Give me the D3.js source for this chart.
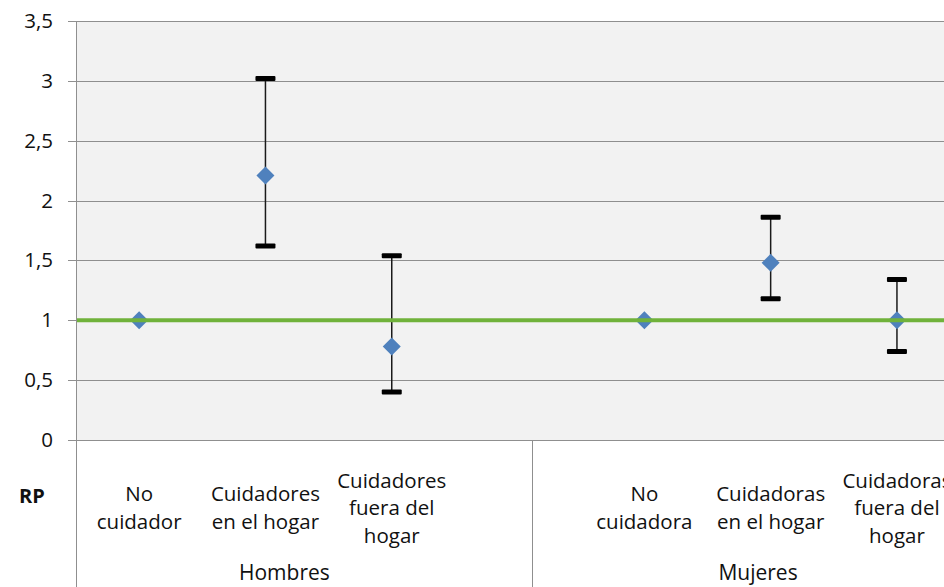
<!DOCTYPE html>
<html>
<head>
<meta charset="utf-8">
<script src="https://cdn.jsdelivr.net/npm/d3@7"></script>
<style>
  body { margin: 0; background: #fff; }
  text { font-family: "Open Sans", "Noto Sans", sans-serif; fill: #111; }
</style>
</head>
<body>
<script>
// categories (the empty one is the gap between groups)
let categories = ["No cuidador", "Cuidadores en el hogar", "Cuidadores fuera del hogar", "",
                  "No cuidadora", "Cuidadoras en el hogar", "Cuidadoras fuera del hogar"];
let categoryLines = [["No", "cuidador"], ["Cuidadores", "en el hogar"], ["Cuidadores", "fuera del", "hogar"], [],
                     ["No", "cuidadora"], ["Cuidadoras", "en el hogar"], ["Cuidadoras", "fuera del", "hogar"]];
// RP values and confidence limits
let rp    = [1.0, 2.21, 0.78, null, 1.0, 1.48, 1.0];
let upper = [null, 3.02, 1.54, null, null, 1.86, 1.34];
let lower = [null, 1.62, 0.40, null, null, 1.18, 0.74];
let refValue = 1;
// groups (position in category-index units)
let groupNames = ["Hombres", "Mujeres"];
let groupCenters = [1.15, 4.9];
let groupDividers = [3.11];
let yTicks = [0, 0.5, 1, 1.5, 2, 2.5, 3, 3.5];

let W = 944, H = 587;
let plotLeft = 76, plotTop = 21, plotBottom = 440, bandW = 126.3;

let x = d3.scaleBand().domain(d3.range(categories.length))
    .range([plotLeft, plotLeft + bandW * categories.length]);
let xi = d3.scaleLinear().domain([0, 1]).range([x(0) + bandW / 2, x(1) + bandW / 2]);
let y = d3.scaleLinear().domain([0, 3.5]).range([plotBottom, plotTop]);

let svg = d3.select("body").append("svg")
    .attr("width", W)
    .attr("height", H);

// plot area
svg.append("rect")
    .attr("x", plotLeft).attr("y", plotTop)
    .attr("width", W - plotLeft).attr("height", plotBottom - plotTop)
    .attr("fill", "#f2f2f2");

// gridlines + ticks
svg.selectAll(".grid").data(yTicks).enter().append("line")
    .attr("x1", plotLeft - 8).attr("x2", W)
    .attr("y1", d => Math.round(y(d)) + 0.5).attr("y2", d => Math.round(y(d)) + 0.5)
    .attr("stroke", "#8f8f8f").attr("stroke-width", 1);

svg.selectAll(".ytl").data(yTicks).enter().append("text")
    .attr("x", 53).attr("y", d => y(d) + 7)
    .attr("text-anchor", "end")
    .style("font-size", "20.5px")
    .text(d => String(d).replace(".", ","));

// left axis line (extends down through category area)
svg.append("line")
    .attr("x1", plotLeft + 0.5).attr("x2", plotLeft + 0.5)
    .attr("y1", plotTop).attr("y2", H)
    .attr("stroke", "#8f8f8f");

// group dividers
svg.selectAll(".div").data(groupDividers).enter().append("line")
    .attr("x1", d => Math.round(xi(d)) + 0.5).attr("x2", d => Math.round(xi(d)) + 0.5)
    .attr("y1", plotBottom).attr("y2", H)
    .attr("stroke", "#8f8f8f");

// error bars
let idx = d3.range(categories.length).filter(i => upper[i] != null);
let eb = svg.selectAll(".eb").data(idx).enter().append("g");
eb.append("line")
    .attr("x1", i => x(i) + bandW / 2).attr("x2", i => x(i) + bandW / 2)
    .attr("y1", i => y(upper[i])).attr("y2", i => y(lower[i]))
    .attr("stroke", "#1a1a1a").attr("stroke-width", 1.5);
eb.append("rect")
    .attr("x", i => x(i) + bandW / 2 - 10).attr("y", i => y(upper[i]) - 2.5)
    .attr("width", 20).attr("height", 5).attr("rx", 1)
    .attr("fill", "#000");
eb.append("rect")
    .attr("x", i => x(i) + bandW / 2 - 10).attr("y", i => y(lower[i]) - 2.5)
    .attr("width", 20).attr("height", 5).attr("rx", 1)
    .attr("fill", "#000");

// diamonds
let pts = d3.range(categories.length).filter(i => rp[i] != null);
svg.selectAll(".pt").data(pts).enter().append("path")
    .attr("transform", i => "translate(" + (x(i) + bandW / 2) + "," + y(rp[i]) + ")")
    .attr("d", "M0,-9L9,0L0,9L-9,0Z")
    .attr("fill", "#4f81bd");

// reference line
svg.append("line")
    .attr("x1", plotLeft + 1).attr("x2", W)
    .attr("y1", y(refValue)).attr("y2", y(refValue))
    .attr("stroke", "#70b23b").attr("stroke-width", 4);

// category labels
let lineH = 27.5, midBase = 515;
categoryLines.forEach(function (lines, i) {
    let t = svg.append("text")
        .attr("text-anchor", "middle")
        .style("font-size", "20.5px");
    lines.forEach(function (s, k) {
        t.append("tspan")
            .attr("x", x(i) + bandW / 2)
            .attr("y", midBase + (k - (lines.length - 1) / 2) * lineH)
            .text(s);
    });
});

// group labels
svg.selectAll(".gl").data(groupNames).enter().append("text")
    .attr("x", (d, i) => xi(groupCenters[i]))
    .attr("y", 580)
    .attr("text-anchor", "middle")
    .style("font-size", "21px")
    .text(d => d);

// RP label
svg.append("text")
    .attr("x", 32).attr("y", 503)
    .attr("text-anchor", "middle")
    .style("font-size", "20px")
    .style("font-weight", "bold")
    .text("RP");
</script>
</body>
</html>
